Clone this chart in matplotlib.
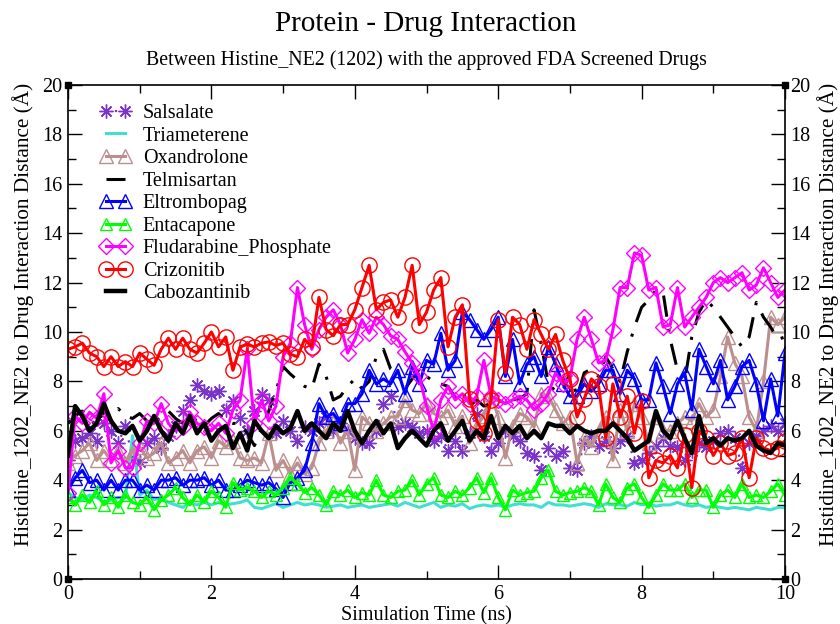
import numpy as np
import matplotlib
matplotlib.use("Agg")
import matplotlib.pyplot as plt

plt.rcParams["font.family"] = ["Liberation Serif", "DejaVu Serif"]

# Distance (Å) between Histidine_NE2 (1202) and each drug, sampled every 0.1 ns
salsalate = [
    4.8, 5.6, 5.7, 5.9, 5.6, 6.3, 6.0, 5.5, 6.2, 4.9,
    4.75, 5.5, 5.7, 5.3, 5.8, 6.2, 6.8, 7.25, 7.85, 7.6,
    7.5, 7.6, 6.84, 7.2, 6.5, 6.0, 6.8, 7.5, 7.25, 5.9,
    6.4, 6.0, 5.6, 6.15, 6.0, 6.3, 6.56, 6.0, 6.3, 6.0,
    5.7, 5.5, 5.5, 6.0, 7.1, 7.4, 6.15, 6.3, 6.15, 5.9,
    6.0, 5.6, 5.8, 5.2, 5.6, 5.2, 5.9, 6.7, 5.8, 5.2,
    5.5, 6.0, 5.8, 5.6, 5.1, 5.0, 4.4, 5.3, 5.0, 5.2,
    4.5, 4.4, 5.5, 5.8, 5.4, 5.6, 5.3, 5.6, 5.8, 4.7,
    4.8, 5.1, 5.4, 5.7, 5.4, 5.35, 4.8, 5.2, 5.5, 5.35,
    5.6, 5.9, 6.0, 5.7, 4.5, 5.5, 5.8, 6.0, 6.2, 6.0,
    6.3,
]
triameterene = [
    3.5, 3.3, 3.2, 3.4, 3.3, 3.1, 3.2, 3.3, 3.3, 5.8,
    3.4, 3.6, 3.2, 3.3, 3.1, 3.0, 2.9, 3.1, 3.0, 3.1,
    3.0, 3.1, 3.0, 3.05, 3.1, 3.2, 2.9, 2.85, 2.95, 3.05,
    2.9, 3.0, 3.1, 3.0, 3.05, 3.0, 2.9, 2.95, 3.0, 2.9,
    2.95, 3.0, 2.9, 2.95, 3.0, 3.05, 2.95, 3.1, 3.0, 2.9,
    3.0, 3.1, 2.9, 3.0, 2.95, 3.05, 2.85, 2.95, 3.0, 2.95,
    3.0, 2.9, 3.0, 3.05, 3.0, 3.0, 2.9, 3.1, 3.0, 3.0,
    2.95, 3.0, 3.05, 3.0, 2.9, 3.05, 3.0, 3.0, 2.95, 3.1,
    3.0, 3.05, 2.95, 3.0, 3.0, 3.1, 3.0, 2.95, 3.0, 2.9,
    2.95, 2.9, 2.85, 2.9, 2.85, 2.8, 2.9, 2.85, 2.8, 2.9,
    2.9,
]
oxandrolone = [
    4.7, 5.0, 5.2, 5.5, 4.8, 5.2, 4.8, 5.2, 4.7, 5.2,
    5.35, 4.9, 5.1, 5.5, 4.7, 4.9, 5.2, 4.7, 5.2, 5.35,
    4.9, 5.6, 5.35, 5.6, 4.9, 4.8, 4.9, 4.7, 5.9, 4.4,
    4.8, 4.25, 4.7, 4.25, 4.5, 5.5, 6.0, 6.3, 5.5, 6.0,
    4.4, 6.56, 6.3, 6.0, 6.3, 6.56, 6.56, 7.25, 6.84, 6.7,
    7.1, 6.7, 6.56, 6.84, 6.2, 6.6, 5.5, 6.2, 6.6, 7.5,
    6.56, 4.9, 6.2, 6.7, 6.56, 6.15, 7.5, 7.4, 6.84, 6.3,
    6.56, 4.7, 5.7, 5.35, 6.0, 6.56, 4.8, 6.84, 6.0, 7.1,
    6.56, 5.5, 6.56, 6.0, 6.0, 6.3, 6.56, 6.4, 7.1, 6.56,
    6.84, 8.2, 9.8, 8.75, 8.2, 6.56, 6.0, 8.0, 10.6, 10.3,
    10.6,
]
telmisartan = [
    6.3, 6.6, 6.8, 6.5, 6.2, 6.8, 6.4, 6.9, 6.6, 6.5,
    6.7, 6.4, 6.3, 6.6, 6.8, 6.5, 6.3, 6.6, 6.4, 6.2,
    6.5, 6.7, 6.4, 6.3, 6.3, 5.9, 5.4, 6.1, 6.8, 7.6,
    8.6, 8.3, 8.05, 7.8, 7.7, 8.7, 8.2, 7.25, 7.4, 7.8,
    8.1, 7.7, 8.0, 9.0, 9.3, 8.5, 8.3, 7.7, 8.1, 8.5,
    8.2, 8.0, 7.9, 7.8, 7.35, 7.6, 7.0, 7.25, 7.0, 7.1,
    7.25, 7.1, 7.25, 7.3, 7.5, 10.9, 9.5, 7.9, 7.6, 7.6,
    8.35, 7.4, 8.35, 8.5, 8.2, 9.0, 8.5, 8.0, 9.2, 10.2,
    11.0, 11.3, 11.7, 11.6, 9.7, 8.45, 8.0, 9.8, 10.8, 11.3,
    11.0, 10.6, 10.2, 9.8, 9.4, 9.8, 11.2, 10.6, 10.2, 9.7,
    9.8,
]
eltrombopag = [
    3.6, 4.1, 4.4, 3.9, 4.0, 3.6, 4.0, 3.6, 4.0, 4.0,
    3.6, 3.8, 3.6, 4.0, 4.0, 4.1, 3.8, 4.0, 4.0, 4.1,
    3.8, 4.0, 3.6, 3.6, 3.8, 4.0, 3.9, 3.8, 3.9, 3.65,
    3.3, 3.9, 4.1, 4.4, 5.5, 7.1, 6.56, 6.7, 6.3, 7.1,
    7.1, 7.5, 8.45, 7.9, 8.1, 7.9, 8.45, 7.5, 8.6, 7.9,
    8.85, 8.7, 9.95, 8.45, 8.85, 10.8, 10.5, 10.1, 9.7, 10.1,
    10.6, 8.2, 9.7, 7.9, 8.7, 9.0, 8.2, 9.4, 8.7, 7.9,
    7.4, 7.4, 7.9, 7.6, 7.9, 8.45, 8.45, 7.5, 8.45, 8.1,
    7.25, 7.25, 8.75, 7.8, 6.7, 7.9, 8.35, 6.85, 9.3, 8.6,
    7.9, 8.85, 7.25, 7.8, 8.6, 8.85, 7.9, 6.4, 8.1, 6.6,
    9.15,
]
entacapone = [
    3.3, 3.0, 3.4, 3.1, 3.55, 3.0, 3.3, 2.9, 3.4, 3.1,
    3.0, 3.3, 2.8, 3.2, 3.4, 3.7, 3.3, 3.0, 3.4, 3.1,
    3.55, 3.3, 2.9, 3.9, 3.6, 3.7, 3.55, 3.3, 3.55, 3.4,
    3.7, 4.1, 3.85, 3.5, 3.7, 3.4, 3.0, 3.55, 3.4, 3.6,
    3.3, 3.5, 3.4, 4.0, 3.4, 3.3, 3.55, 3.6, 4.0, 3.4,
    3.85, 4.1, 3.4, 3.3, 3.55, 3.4, 3.7, 4.1, 3.5, 4.1,
    3.3, 2.8, 3.6, 3.4, 3.5, 3.55, 4.1, 4.4, 3.55, 3.4,
    3.5, 3.55, 3.7, 3.55, 3.0, 3.85, 3.3, 3.1, 3.7, 3.85,
    3.3, 2.9, 3.4, 3.85, 3.6, 3.6, 3.85, 3.3, 3.6, 3.6,
    2.9, 3.4, 3.6, 3.3, 3.85, 3.3, 3.4, 3.3, 3.55, 3.85,
    3.4,
]
fludarabine = [
    3.5, 6.6, 6.3, 6.75, 6.5, 7.5, 4.7, 5.2, 4.5, 4.5,
    5.5, 6.4, 6.3, 7.1, 6.3, 6.0, 6.15, 6.75, 6.3, 6.15,
    6.0, 6.3, 5.9, 6.84, 7.25, 9.3, 6.3, 7.25, 6.4, 7.0,
    9.0, 9.55, 11.8, 10.3, 9.3, 10.1, 10.6, 10.9, 10.3, 9.15,
    9.7, 10.5, 9.95, 10.6, 10.3, 9.85, 9.7, 9.2, 8.75, 8.2,
    7.0, 6.0, 7.25, 7.8, 7.25, 7.5, 7.1, 7.4, 8.85, 7.4,
    7.25, 7.1, 7.25, 7.4, 7.25, 6.85, 7.1, 7.5, 8.35, 7.9,
    8.1, 9.7, 10.6, 9.7, 8.75, 8.85, 10.1, 11.8, 11.8, 13.2,
    13.1, 11.7, 11.8, 10.2, 10.3, 11.8, 10.2, 10.6, 11.0, 11.4,
    12.0, 12.2, 12.0, 12.2, 12.4, 11.7, 11.9, 12.6, 12.0, 11.4,
    11.7,
]
crizonitib = [
    9.3, 9.4, 9.55, 9.15, 9.0, 8.6, 9.0, 8.6, 8.8, 8.6,
    9.15, 8.9, 8.65, 9.3, 9.75, 9.3, 9.75, 9.3, 9.15, 9.55,
    10.0, 9.4, 9.8, 8.45, 9.4, 9.5, 9.4, 9.55, 9.6, 9.45,
    9.55, 9.1, 9.0, 9.7, 9.4, 11.4, 10.1, 9.85, 10.3, 10.3,
    10.9, 11.8, 12.7, 10.9, 11.2, 11.3, 10.6, 11.4, 12.7, 10.3,
    10.8, 11.7, 12.2, 9.4, 10.6, 11.1, 7.3, 6.4, 5.9, 7.25,
    10.5, 8.35, 10.6, 10.3, 9.3, 10.5, 9.9, 9.3, 9.9, 8.85,
    8.1, 6.56, 7.3, 8.1, 7.8, 5.7, 7.9, 6.56, 7.4, 5.9,
    7.2, 4.1, 4.8, 4.7, 5.0, 4.5, 5.85, 3.7, 6.0, 5.7,
    5.0, 5.5, 5.0, 5.1, 5.7, 4.1, 5.7, 5.3, 5.2, 5.3,
    5.6,
]
cabozantinib = [
    5.0, 7.0, 6.6, 6.0, 6.3, 7.1, 6.4, 6.0, 5.9, 6.2,
    5.6, 6.0, 6.6, 6.0, 5.6, 6.3, 5.9, 6.6, 5.9, 6.3,
    5.6, 6.0, 6.2, 5.3, 5.9, 5.2, 6.4, 6.0, 5.7, 6.2,
    5.9, 6.1, 6.8, 6.0, 6.3, 6.0, 5.7, 6.3, 6.0, 6.8,
    6.0, 5.5, 6.0, 6.4, 5.9, 6.3, 5.3, 5.7, 6.0, 5.7,
    5.4, 6.0, 6.3, 5.6, 6.0, 6.4, 5.6, 6.0, 5.7, 6.6,
    5.7, 6.2, 5.9, 6.2, 5.7, 6.0, 5.7, 6.3, 6.2, 6.2,
    5.9, 6.2, 6.0, 5.9, 6.0, 6.0, 6.3, 6.0, 5.7, 5.2,
    5.4, 5.6, 6.8, 6.0, 5.7, 6.4, 5.7, 5.1, 6.6, 5.5,
    5.7, 5.4, 5.7, 5.6, 5.7, 6.0, 5.4, 5.2, 5.1, 5.5,
    5.4,
]

series = [
    ("Salsalate", salsalate, dict(color="#7a35c8", lw=1.6, ls=(0, (1, 3)),
                                  marker=(8, 2, 0), ms=10, mew=1.0)),
    ("Triameterene", triameterene, dict(color="#40e0d0", lw=2.2, ls="-")),
    ("Oxandrolone", oxandrolone, dict(color="#bc8f8f", lw=2.2, ls="-",
                                      marker="^", ms=10, mfc="none", mew=1.0)),
    ("Telmisartan", telmisartan, dict(color="black", lw=2.2, ls=(0, (7, 4, 1, 4)))),
    ("Eltrombopag", eltrombopag, dict(color="#0000ff", lw=2.2, ls="-",
                                      marker="^", ms=10, mfc="none", mew=1.0)),
    ("Entacapone", entacapone, dict(color="#00ff00", lw=2.2, ls="-",
                                    marker="^", ms=8, mfc="none", mew=1.0)),
    ("Fludarabine_Phosphate", fludarabine, dict(color="#ff00ff", lw=2.2, ls="-",
                                                marker="D", ms=8, mfc="none", mew=1.0)),
    ("Crizonitib", crizonitib, dict(color="#ff0000", lw=2.2, ls="-",
                                    marker="o", ms=11, mfc="none", mew=1.0)),
    ("Cabozantinib", cabozantinib, dict(color="black", lw=3.2, ls="-")),
]

fig = plt.figure(figsize=(8.4, 6.24), dpi=100)
ax = fig.add_axes([68 / 840, 1 - 579 / 624, (785 - 68) / 840, (579 - 85) / 624])

for name, vals, style in series:
    t = np.linspace(0.0, 10.0, len(vals))
    ax.plot(t, vals, label=name, **style)

ax.set_xlim(0, 10)
ax.set_ylim(0, 20)
ax.set_xticks(np.arange(0, 11, 2))
ax.set_xticks(np.arange(0, 11, 1), minor=True)
ax.set_yticks(np.arange(0, 21, 2))
ax.set_yticks(np.arange(0, 21, 1), minor=True)
ax.tick_params(which="both", direction="in", top=True, right=True,
               labelright=True, width=1.0, labelsize=14.5, pad=4)
ax.tick_params(which="major", length=10)
ax.tick_params(which="minor", length=5.5)
for sp in ax.spines.values():
    sp.set_linewidth(1.2)

# small filled squares at the frame corners
ax.plot([0, 10, 0, 10], [0, 0, 20, 20], "s", color="black", ms=5,
        clip_on=False, zorder=20)

ax.set_xlabel("Simulation Time (ns)", fontsize=14.5, labelpad=2)
ylabel = "Histidine_1202_NE2 to Drug Interaction Distance (Å)"
ax.set_ylabel(ylabel, fontsize=15.3)
ax.yaxis.set_label_coords(-0.047, 0.536)
fig.text(828 / 840, 1 - 314 / 624, ylabel,
         rotation=90, fontsize=15.3, ha="center", va="center")

fig.text(426 / 840, 1 - 24 / 624, "Protein - Drug Interaction",
         fontsize=21, ha="center", va="center")
fig.text(426 / 840, 1 - 60 / 624,
         "Between Histine_NE2 (1202) with the approved FDA Screened Drugs",
         fontsize=14.3, ha="center", va="center")

ax.legend(loc="upper left", bbox_to_anchor=(0.034, 0.978), frameon=False,
          numpoints=2, handlelength=1.5, handletextpad=0.6,
          labelspacing=0.17, fontsize=14.5, borderaxespad=0)

fig.savefig("out.png", dpi=100)
